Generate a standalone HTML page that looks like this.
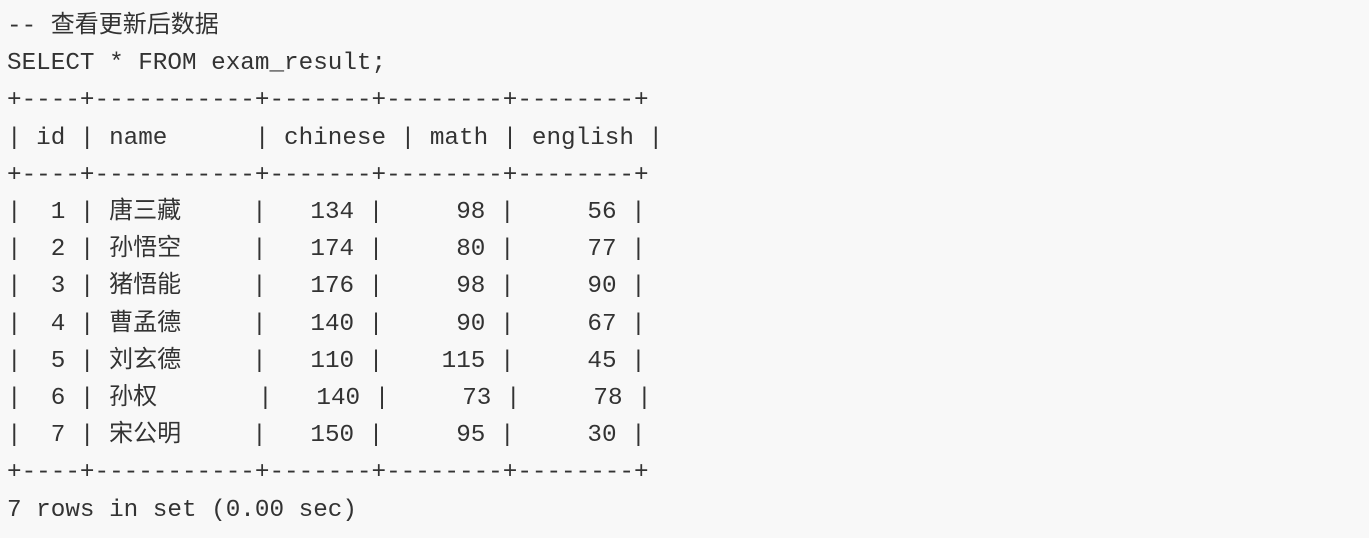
<!DOCTYPE html>
<html><head><meta charset="utf-8"><style>
html,body{margin:0;padding:0;background:#f8f8f8;}
body{width:1369px;height:538px;overflow:hidden;}
pre{margin:0;padding:8px 0 0 7px;font-family:"Liberation Mono","Noto Sans CJK SC",monospace;font-size:24.3px;line-height:37.2px;color:#333;white-space:pre;}
.n{display:inline-block;width:143px;font-family:"Noto Sans CJK SC",sans-serif;font-size:24px;line-height:24px;vertical-align:baseline;}
.n6{width:149px;}
.c{font-family:"Noto Sans CJK SC",sans-serif;font-size:24px;line-height:24px;}
</style></head><body>
<pre>-- <span class="c">查看更新后数据</span>
SELECT * FROM exam_result;
+----+-----------+-------+--------+--------+
| id | name      | chinese | math | english |
+----+-----------+-------+--------+--------+
|  1 | <span class="n">唐三藏</span>|   134 |     98 |     56 |
|  2 | <span class="n">孙悟空</span>|   174 |     80 |     77 |
|  3 | <span class="n">猪悟能</span>|   176 |     98 |     90 |
|  4 | <span class="n">曹孟德</span>|   140 |     90 |     67 |
|  5 | <span class="n">刘玄德</span>|   110 |    115 |     45 |
|  6 | <span class="n n6">孙权</span>|   140 |     73 |     78 |
|  7 | <span class="n">宋公明</span>|   150 |     95 |     30 |
+----+-----------+-------+--------+--------+
7 rows in set (0.00 sec)</pre>
</body></html>
